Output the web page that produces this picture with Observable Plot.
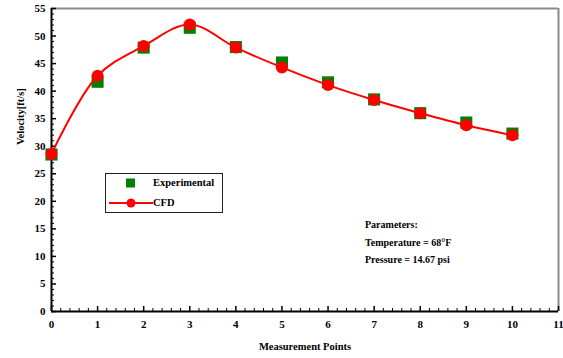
<!DOCTYPE html>
<html>
<head>
<meta charset="utf-8">
<script src="https://cdn.jsdelivr.net/npm/d3@7"></script>
<script src="https://cdn.jsdelivr.net/npm/@observablehq/plot@0.6"></script>
<style>
  html, body { margin: 0; padding: 0; background: #fff; }
  #wrap { position: relative; width: 563px; height: 358px; font-family: "Liberation Serif", "Times New Roman", serif; font-weight: bold; }
  .legend { position: absolute; left: 105px; top: 173px; width: 116px; height: 38px; border: 1px solid #222; background: #fff; font-size: 10.5px; }
  .legend .row { position: absolute; left: 0; height: 14px; line-height: 14px; }
  .legend .lbl { position: absolute; left: 47px; white-space: nowrap; }
  .note { position: absolute; left: 365px; top: 216px; font-size: 10px; line-height: 17.5px; white-space: nowrap; }
</style>
</head>
<body>
<div id="wrap"></div>
<script>
const points = [0, 1, 2, 3, 4, 5, 6, 7, 8, 9, 10];
const experimental = [28.5, 41.7, 47.9, 51.5, 48.0, 45.2, 41.6, 38.5, 36.0, 34.3, 32.3];
const cfd = [28.6, 42.8, 48.2, 52.1, 47.9, 44.3, 41.1, 38.4, 36.0, 33.8, 32.0];
const xTicks = [0, 1, 2, 3, 4, 5, 6, 7, 8, 9, 10, 11];
const yTicks = [0, 5, 10, 15, 20, 25, 30, 35, 40, 45, 50, 55];
const xMinor = d3.range(0, 55).map(i => i / 5).filter(v => !Number.isInteger(v));
const yMinor = d3.range(0, 56).filter(v => v % 5 !== 0);
const seriesNames = ["Experimental", "CFD"];
const xTitle = "Measurement Points";
const yTitle = "Velocity[ft/s]";
const noteLines = ["Parameters:", "Temperature = 68\u00B0F", "Pressure = 14.67 psi"];

const W = 563, H = 358;
const mL = 51, mR = 5, mT = 8, mB = 47;
const pw = W - mL - mR, ph = H - mT - mB;

const exp = points.map((p, i) => ({x: p, y: experimental[i]}));
const sim = points.map((p, i) => ({x: p, y: cfd[i]}));

const font = "Liberation Serif, Times New Roman, serif";

const chart = Plot.plot({
  width: W, height: H,
  marginLeft: mL, marginRight: mR, marginTop: mT, marginBottom: mB,
  style: {fontFamily: font, fontWeight: "bold", fontSize: "11px", background: "white", color: "black"},
  x: {domain: [0, 11], axis: null},
  y: {domain: [0, 55], axis: null},
  marks: [
    // frame top/right (grey)
    Plot.ruleY([55], {stroke: "#8a8a8a", strokeWidth: 2}),
    Plot.ruleX([11], {stroke: "#8a8a8a", strokeWidth: 2}),
    // inward ticks
    Plot.ruleX(xMinor, {x: d => d, stroke: "black", strokeWidth: 1, insetTop: ph - 3}),
    Plot.ruleX(xTicks, {x: d => d, stroke: "black", strokeWidth: 1.5, insetTop: ph - 5}),
    Plot.ruleY(yMinor, {y: d => d, stroke: "black", strokeWidth: 1, insetRight: pw - 3}),
    Plot.ruleY(yTicks, {y: d => d, stroke: "black", strokeWidth: 1.5, insetRight: pw - 5}),
    // axes lines
    Plot.ruleX([0], {stroke: "black", strokeWidth: 2}),
    Plot.ruleY([0], {stroke: "black", strokeWidth: 2}),
    // tick labels
    Plot.text(xTicks, {x: d => d, frameAnchor: "bottom", dy: 16, text: d => String(d), fontSize: 11, fontWeight: "bold", fill: "black"}),
    Plot.text(yTicks, {y: d => d, frameAnchor: "left", dx: -6, textAnchor: "end", text: d => String(d), fontSize: 11, fontWeight: "bold", fill: "black"}),
    // axis titles
    Plot.text([xTitle], {frameAnchor: "bottom", dy: 38, text: d => d, fontSize: 10.5, fontWeight: "bold", fill: "black"}),
    Plot.text([yTitle], {frameAnchor: "left", dx: -31, dy: -15, rotate: -90, text: d => d, fontSize: 10.5, fontWeight: "bold", fill: "black"}),
    // data
    Plot.dot(exp, {x: "x", y: "y", symbol: "square", r: 6.8, fill: "#008000", stroke: "none"}),
    Plot.line(sim, {x: "x", y: "y", stroke: "#ff0000", strokeWidth: 2, curve: "catmull-rom"}),
    Plot.dot(sim, {x: "x", y: "y", r: 6, fill: "#ff0000", stroke: "none"})
  ]
});

const wrap = document.getElementById("wrap");
wrap.appendChild(chart);

// legend overlay
const legend = document.createElement("div");
legend.className = "legend";
legend.innerHTML = `
  <div class="row" style="top:2px;width:116px;">
    <svg width="46" height="14" style="position:absolute;left:0;top:0"><rect x="20" y="2.5" width="9" height="9" fill="#008000"/></svg>
    <span class="lbl">${seriesNames[0]}</span>
  </div>
  <div class="row" style="top:22px;width:116px;">
    <svg width="48" height="14" style="position:absolute;left:0;top:0"><line x1="3" y1="7" x2="47" y2="7" stroke="#ff0000" stroke-width="2"/><circle cx="25" cy="7" r="4.5" fill="#ff0000"/></svg>
    <span class="lbl">${seriesNames[1]}</span>
  </div>`;
wrap.appendChild(legend);

const note = document.createElement("div");
note.className = "note";
note.innerHTML = noteLines.map(t => `<div>${t}</div>`).join("");
wrap.appendChild(note);
</script>
</body>
</html>
